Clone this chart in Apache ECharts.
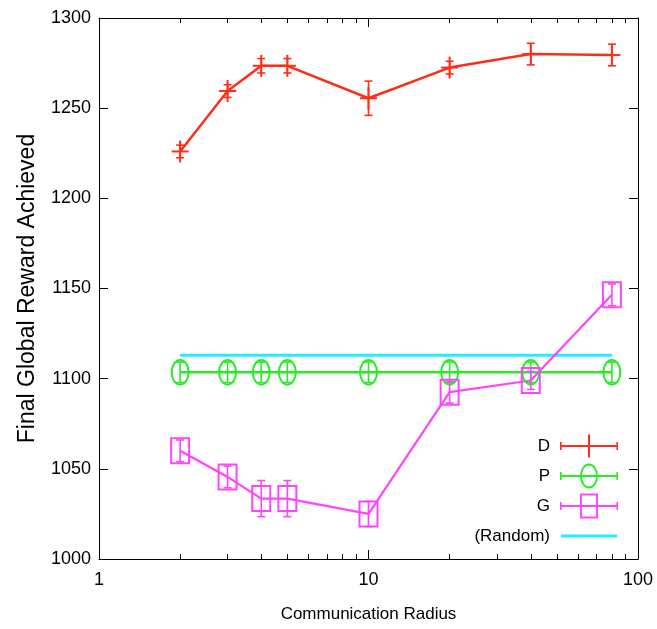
<!DOCTYPE html>
<html>
<head>
<meta charset="utf-8">
<script src="https://cdn.jsdelivr.net/npm/echarts@6/dist/echarts.min.js"></script>
<style>
html,body{margin:0;padding:0;background:#fff;}
#chart{width:657px;height:629px;}
</style>
</head>
<body>
<div id="chart"></div>
<script>
// ---- data ----
const radius = [2, 3, 4, 5, 10, 20, 40, 80];
const dMean = [1226, 1259.5, 1273.5, 1273.5, 1255.5, 1272.5, 1280, 1279.5];
const dErr  = [3.5, 3.5, 4, 4, 9.5, 3.5, 6, 6];
const pMean = [1103.5, 1103.5, 1103.5, 1103.5, 1103.5, 1103.5, 1103.5, 1103.5];
const pErr  = [5.7, 5.7, 5.7, 5.7, 5.7, 5.7, 5.7, 5.7];
const gMean = [1060, 1045.5, 1033.5, 1033.5, 1025, 1092.5, 1099, 1146.5];
const gErr  = [6, 6, 10, 10, 7, 6, 5, 6];
const randomX = [2, 80];
const randomY = [1113, 1113];
const xMajorTicks = [1, 10, 100];
const xMinorTicks = [2, 3, 4, 5, 6, 7, 8, 9, 20, 30, 40, 50, 60, 70, 80, 90];
const yTicks = [1000, 1050, 1100, 1150, 1200, 1250, 1300];
const names = ['D', 'P', 'G', '(Random)'];

const COLORS = {D: '#ff2d17', P: '#22ee22', G: '#ff44ff', R: '#22eeff'};
const FONT = '"Liberation Sans", Arial, Helvetica, sans-serif';

const pairs = (xs, ys) => xs.map((x, i) => [x, ys[i]]);
const triples = (xs, ys, es) => xs.map((x, i) => [x, ys[i], es[i]]);

function errRender(marker, color) {
  return function (params, api) {
    const x = api.value(0), y = api.value(1), e = api.value(2);
    const c = api.coord([x, y]);
    const t = api.coord([x, y + e]);
    const b = api.coord([x, y - e]);
    const cap = 4;
    const st = {stroke: color, lineWidth: 1.6, fill: null};
    const ch = [
      {type: 'line', shape: {x1: c[0], y1: t[1], x2: c[0], y2: b[1]}, style: st},
      {type: 'line', shape: {x1: c[0] - cap, y1: t[1], x2: c[0] + cap, y2: t[1]}, style: st},
      {type: 'line', shape: {x1: c[0] - cap, y1: b[1], x2: c[0] + cap, y2: b[1]}, style: st}
    ];
    const ms = {stroke: color, lineWidth: 2, fill: null};
    if (marker === 'plus') {
      ch.push({type: 'line', shape: {x1: c[0] - 8.5, y1: c[1], x2: c[0] + 8.5, y2: c[1]}, style: ms});
      ch.push({type: 'line', shape: {x1: c[0], y1: c[1] - 11, x2: c[0], y2: c[1] + 11}, style: ms});
    } else if (marker === 'ellipse') {
      ch.push({type: 'ellipse', shape: {cx: c[0], cy: c[1], rx: 8.5, ry: 12.3}, style: ms});
    } else {
      ch.push({type: 'rect', shape: {x: c[0] - 9, y: c[1] - 12.5, width: 18, height: 25}, style: ms});
    }
    return {type: 'group', children: ch};
  };
}

// legend icons (58 x 26 box)
const dots = 'M0,0 L0.01,0 L0,0.01 Z M58,26 L57.99,26 L58,25.99 Z ';
const bar = 'M0,12 L58,12 L58,14 L0,14 Z ';
const caps = 'M0,9 L1.6,9 L1.6,17 L0,17 Z M56.4,9 L58,9 L58,17 L56.4,17 Z ';
const iconD = 'path://' + dots + bar + caps + 'M28,1.5 L30,1.5 L30,24.5 L28,24.5 Z';
const iconP = 'path://' + dots + bar + caps +
  'M20,13 A9,12.5 0 1 1 38,13 A9,12.5 0 1 1 20,13 Z M21.9,13 A7.1,10.6 0 1 0 36.1,13 A7.1,10.6 0 1 0 21.9,13 Z';
const iconG = 'path://' + dots + bar + caps +
  'M20,0.5 L38,0.5 L38,25.5 L20,25.5 Z M21.9,2.4 L21.9,23.6 L36.1,23.6 L36.1,2.4 Z';
const iconR = 'path://' + dots + 'M1,11.5 L57,11.5 L57,14.5 L1,14.5 Z';

function xAxisDef(pos, ticks, len, showLine, showLabel) {
  return {
    type: 'log', logBase: 10, min: 1, max: 100, position: pos,
    axisLine: {show: showLine, onZero: false, lineStyle: {color: '#000', width: 1}},
    axisTick: {show: true, inside: true, length: len, customValues: ticks, lineStyle: {color: '#000', width: 1}},
    axisLabel: {show: showLabel, customValues: ticks, color: '#000', fontSize: 18, fontFamily: FONT, margin: 12},
    splitLine: {show: false}, minorTick: {show: false}
  };
}

const chart = echarts.init(document.getElementById('chart'), null, {renderer: 'canvas'});
const option = {
  animation: false,
  backgroundColor: '#fff',
  grid: {left: 99, right: 19, top: 18, bottom: 70, containLabel: false},
  xAxis: [
    Object.assign(xAxisDef('bottom', xMajorTicks, 9, true, true), {
      name: 'Communication Radius', nameLocation: 'middle', nameGap: 47, nameMoveOverlap: false,
      nameTextStyle: {color: '#000', fontSize: 17, fontFamily: FONT}
    }),
    xAxisDef('bottom', xMinorTicks, 5, false, false),
    xAxisDef('top', xMajorTicks, 9, true, false),
    xAxisDef('top', xMinorTicks, 5, false, false)
  ],
  yAxis: [
    {
      type: 'value', min: 1000, max: 1300, interval: 50, position: 'left',
      axisLine: {show: true, lineStyle: {color: '#000', width: 1}},
      axisTick: {show: true, inside: true, length: 9, lineStyle: {color: '#000'}},
      axisLabel: {color: '#000', fontSize: 18, fontFamily: FONT, margin: 8,
                  formatter: (v) => String(v)},
      splitLine: {show: false},
      name: 'Final Global Reward Achieved', nameLocation: 'middle', nameGap: 60, nameMoveOverlap: false,
      nameTextStyle: {color: '#000', fontSize: 23, fontFamily: FONT}
    },
    {
      type: 'value', min: 1000, max: 1300, interval: 50, position: 'right',
      axisLine: {show: true, lineStyle: {color: '#000', width: 1}},
      axisTick: {show: true, inside: true, length: 9, lineStyle: {color: '#000'}},
      axisLabel: {show: false}, splitLine: {show: false}
    }
  ],
  legend: {
    orient: 'vertical', align: 'right', right: 39, top: 433, padding: 0,
    itemWidth: 58, itemHeight: 26, itemGap: 4,
    selectedMode: false,
    textStyle: {color: '#000', fontSize: 17, fontFamily: FONT, padding: [0, 5, 0, 0]},
    itemStyle: {borderWidth: 0},
    data: [
      {name: names[0], icon: iconD},
      {name: names[1], icon: iconP},
      {name: names[2], icon: iconG},
      {name: names[3], icon: iconR}
    ]
  },
  series: [
    {name: names[3], type: 'line', data: pairs(randomX, randomY), symbol: 'none', showSymbol: false,
     itemStyle: {color: COLORS.R}, lineStyle: {color: COLORS.R, width: 3}, z: 1},
    {name: names[1], type: 'line', data: pairs(radius, pMean), symbol: 'none', showSymbol: false,
     itemStyle: {color: COLORS.P}, lineStyle: {color: COLORS.P, width: 2.5}, z: 2},
    {name: names[2], type: 'line', data: pairs(radius, gMean), symbol: 'none', showSymbol: false,
     itemStyle: {color: COLORS.G}, lineStyle: {color: COLORS.G, width: 2.2}, z: 3},
    {name: names[0], type: 'line', data: pairs(radius, dMean), symbol: 'none', showSymbol: false,
     itemStyle: {color: COLORS.D}, lineStyle: {color: COLORS.D, width: 2.5}, z: 4},
    {name: 'P-err', type: 'custom', renderItem: errRender('ellipse', COLORS.P),
     data: triples(radius, pMean, pErr), encode: {x: 0, y: 1}, z: 5},
    {name: 'G-err', type: 'custom', renderItem: errRender('rect', COLORS.G),
     data: triples(radius, gMean, gErr), encode: {x: 0, y: 1}, z: 6},
    {name: 'D-err', type: 'custom', renderItem: errRender('plus', COLORS.D),
     data: triples(radius, dMean, dErr), encode: {x: 0, y: 1}, z: 7}
  ]
};
chart.setOption(option);
</script>
</body>
</html>
